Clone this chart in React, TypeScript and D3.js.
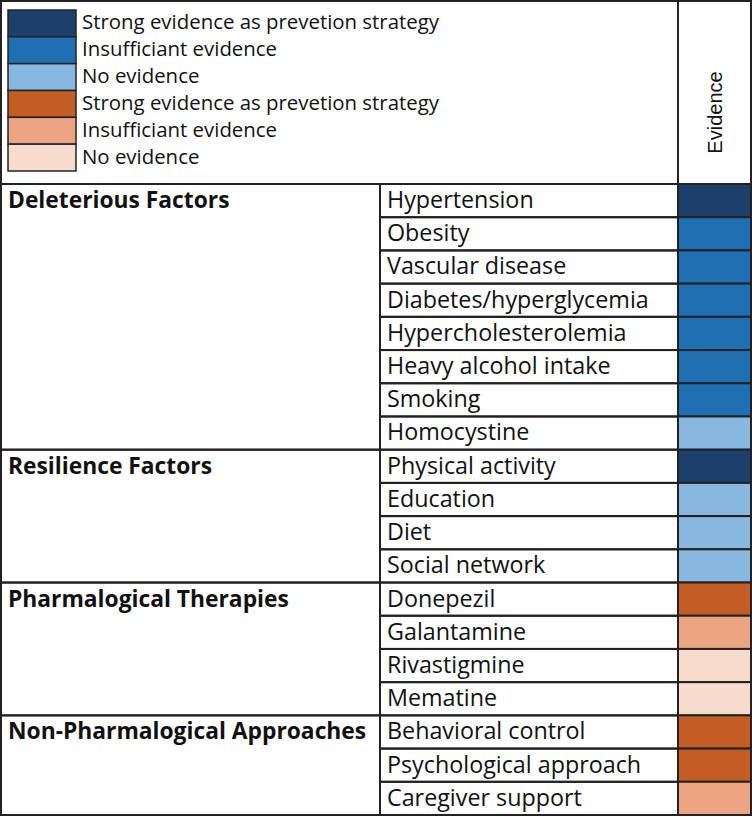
import * as d3 from 'd3'

const legendLabels = [
  'Strong evidence as prevetion strategy',
  'Insufficiant evidence',
  'No evidence',
  'Strong evidence as prevetion strategy',
  'Insufficiant evidence',
  'No evidence',
]
const legendColors = ['#1e3f6c', '#1f70b3', '#88b7e0', '#c45d24', '#eca583', '#f7dccd']

const groups = ['Deleterious Factors', 'Resilience Factors', 'Pharmalogical Therapies', 'Non-Pharmalogical Approaches']
const groupSizes = [8, 4, 4, 3]
const items = [
  'Hypertension', 'Obesity', 'Vascular disease', 'Diabetes/hyperglycemia', 'Hypercholesterolemia',
  'Heavy alcohol intake', 'Smoking', 'Homocystine',
  'Physical activity', 'Education', 'Diet', 'Social network',
  'Donepezil', 'Galantamine', 'Rivastigmine', 'Mematine',
  'Behavioral control', 'Psychological approach', 'Caregiver support',
]
// index into legendColors
const evidence = [0, 1, 1, 1, 1, 1, 1, 2, 0, 2, 2, 2, 3, 4, 5, 5, 3, 3, 4]

const W = 752
const H = 817
const left = 1
const right = 751
const top = 1
const tableTop = 184
const bottom = 815
const colItem = 380
const colEv = 678
const stroke = '#222'
const font = '"Open Sans", sans-serif'

export default function App() {
  const y = d3.scaleBand<number>().domain(d3.range(items.length)).range([tableTop, bottom])
  const ly = d3.scaleBand<number>().domain(d3.range(legendLabels.length)).range([10, 171])
  const starts = d3.cumsum([0, ...groupSizes.slice(0, -1)])

  return (
    <svg width={W} height={H} style={{ position: 'absolute', left: 0, top: 0, background: '#fff' }}>
      {/* legend */}
      {legendLabels.map((t, i) => (
        <g key={'l' + i}>
          <rect x={8} y={ly(i)!} width={68} height={ly.bandwidth()} fill={legendColors[i]} stroke={stroke} strokeWidth={1.5} />
          <text x={82} y={ly(i)! + ly.bandwidth() / 2 + 6} fontFamily={font} fontSize={20.4} fill="#111">{t}</text>
        </g>
      ))}
      <rect x={left} y={top} width={colEv - left} height={tableTop - top} fill="none" stroke={stroke} strokeWidth={2} />
      <rect x={colEv} y={top} width={right - colEv} height={tableTop - top} fill="none" stroke={stroke} strokeWidth={2} />
      <text transform={`translate(${(colEv + right) / 2 + 7},${(top + tableTop) / 2 + 20}) rotate(-90)`}
        textAnchor="middle" fontFamily="Liberation Sans, Arial, sans-serif" fontSize={20} fill="#111">Evidence</text>

      {/* groups */}
      {groups.map((g, i) => {
        const y0 = y(starts[i])!
        const y1 = y(starts[i] + groupSizes[i] - 1)! + y.bandwidth()
        return (
          <g key={'g' + i}>
            <rect x={left} y={y0} width={colItem - left} height={y1 - y0} fill="none" stroke={stroke} strokeWidth={2} />
            <text x={8} y={y0 + 24} fontFamily={font} fontWeight="bold" fontSize={22.8} fill="#111">{g}</text>
          </g>
        )
      })}

      {/* items */}
      {items.map((t, i) => (
        <g key={'i' + i}>
          <rect x={colItem} y={y(i)!} width={colEv - colItem} height={y.bandwidth()} fill="none" stroke={stroke} strokeWidth={2} />
          <text x={387} y={y(i)! + 24} fontFamily={font} fontSize={23.3} fill="#111">{t}</text>
          <rect x={colEv} y={y(i)!} width={right - colEv} height={y.bandwidth()} fill={legendColors[evidence[i]]} stroke={stroke} strokeWidth={2} />
        </g>
      ))}
    </svg>
  )
}
